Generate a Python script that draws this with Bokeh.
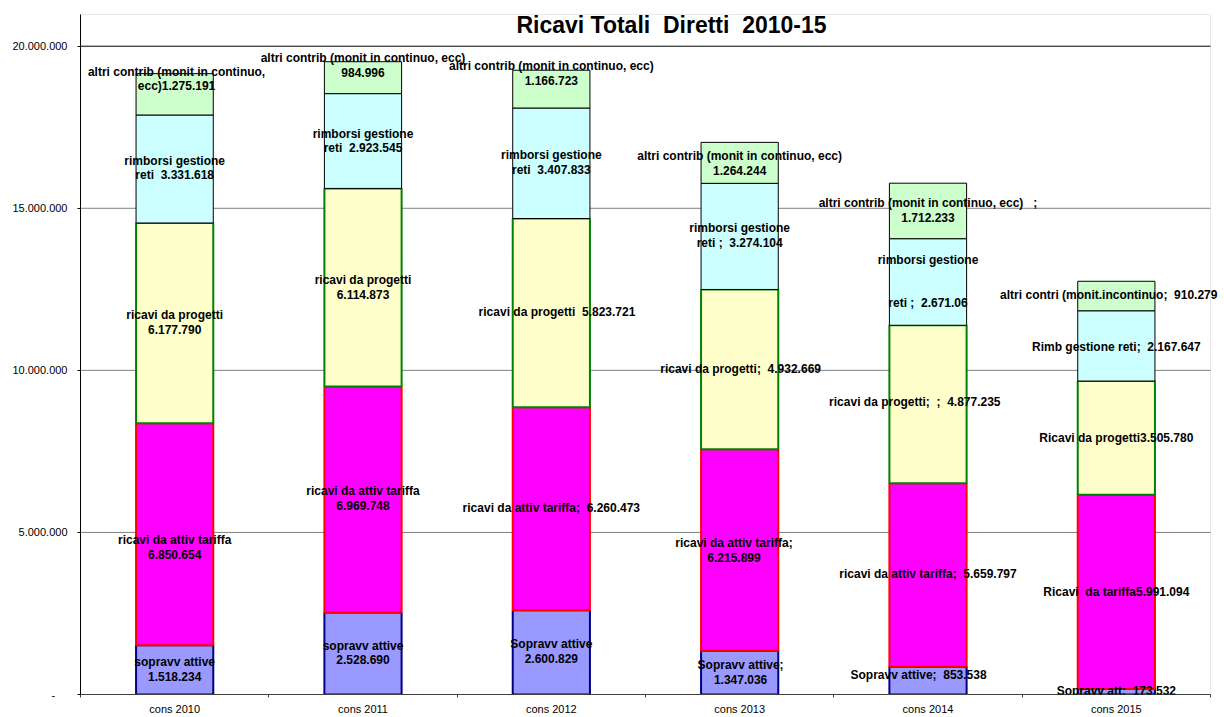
from bokeh.plotting import figure
from bokeh.models import ColumnDataSource, FixedTicker, LabelSet, Label, Range1d, BoxAnnotation
from bokeh.core.properties import value
from bokeh.embed import file_html
from bokeh.resources import INLINE

# ---------------- data ----------------
categories = ["cons 2010", "cons 2011", "cons 2012", "cons 2013", "cons 2014", "cons 2015"]

sopravv = [1518234, 2528690, 2600829, 1347036, 853538, 173532]
tariffa = [6850654, 6969748, 6260473, 6215899, 5659797, 5991094]
progetti = [6177790, 6114873, 5823721, 4932669, 4877235, 3505780]
rimborsi = [3331618, 2923545, 3407833, 3274104, 2671060, 2167647]
altri = [1275191, 984996, 1166723, 1264244, 1712233, 910279]

y_ticks = [0, 5000000, 10000000, 15000000, 20000000]
y_tick_labels = ["-\u00a0\u00a0\u00a0\u00a0", "5.000.000", "10.000.000", "15.000.000", "20.000.000"]

title_text = "Ricavi Totali  Diretti  2010-15"

lab_sopravv = ["sopravv attive\n1.518.234", "sopravv attive\n2.528.690", "Sopravv attive\n2.600.829",
               "Sopravv attive;\n1.347.036", "Sopravv attive;  853.538", "Sopravv att;  173.532"]
lab_tariffa = ["ricavi da attiv tariffa\n6.850.654", "ricavi da attiv tariffa\n6.969.748",
               "ricavi da attiv tariffa;  6.260.473", "ricavi da attiv tariffa;\n6.215.899",
               "ricavi da attiv tariffa;  5.659.797", "Ricavi  da tariffa5.991.094"]
lab_progetti = ["ricavi da progetti\n6.177.790", "ricavi da progetti\n6.114.873",
                "ricavi da progetti  5.823.721", "ricavi da progetti;  4.932.669",
                "ricavi da progetti;  ;  4.877.235", "Ricavi da progetti3.505.780"]
lab_rimborsi = ["rimborsi gestione\nreti  3.331.618", "rimborsi gestione\nreti  2.923.545",
                "rimborsi gestione\nreti  3.407.833", "rimborsi gestione\nreti ;  3.274.104",
                "rimborsi gestione\n\n\nreti ;  2.671.06", "Rimb gestione reti;  2.167.647"]
lab_altri = ["altri contrib (monit in continuo,\necc)1.275.191",
             "altri contrib (monit in continuo, ecc)\n984.996",
             "altri contrib (monit in continuo, ecc)\n1.166.723",
             "altri contrib (monit in continuo, ecc)\n1.264.244",
             "altri contrib (monit in continuo, ecc)   ;\n1.712.233",
             "altri contri (monit.incontinuo;  910.279"]

# label placement (manually dragged labels in the original): x offset in category units, y in value units
pos_dx_sopravv = [0, 0, 0, 0.005, -0.05, 0]
pos_dx_tariffa = [0, 0, 0, -0.03, 0, 0]
pos_dx_progetti = [0, 0, 0.03, 0.005, -0.07, 0]
pos_dx_rimborsi = [0, 0, 0, 0, 0, 0]
pos_dx_altri = [0.01, 0, 0, 0, 0, -0.04]

pos_y_sopravv = [770000, 1290000, 1340000, 690000, 610000, 110000]
pos_y_tariffa = [4550000, 6050000, 5750000, 4440000, 3720000, 3160000]
pos_y_progetti = [11490000, 12570000, 11800000, 10050000, 9030000, 7900000]
pos_y_rimborsi = [16250000, 17080000, 16410000, 14160000, 12730000, 10720000]
pos_y_altri = [18990000, 19420000, 19170000, 16390000, 14930000, 12320000]

# ---------------- figure ----------------
FONT = "Liberation Sans"
LINE_H = 14.3
n = len(categories)
xs = list(range(n))
Y_TOP = 20980000          # top edge of the plot area box
X_LO, X_HI = -0.5, n - 0.5


def keep_spaces(s):
    return s.replace("  ", " \u00a0")


p = figure(width=1222, height=717, title=None,
           x_range=Range1d(X_LO, X_HI + 0.0637), y_range=Range1d(0, Y_TOP + 60000),
           output_backend="svg", toolbar_location=None,
           min_border_left=80, min_border_right=0, min_border_top=12, min_border_bottom=20)
p.background_fill_color = "white"
p.border_fill_color = "white"
p.outline_line_color = None

# plot-area border (grey)
p.add_layout(BoxAnnotation(left=X_LO, right=X_HI, bottom=0, top=Y_TOP,
                           fill_color=None, line_color="#b4b4b4", line_width=1,
                           level="underlay"))

# gridlines
p.xgrid.visible = False
p.ygrid.visible = False
grid_colors = ["#808080"] * (len(y_ticks) - 1) + ["black"]
p.segment(x0=[X_LO] * len(y_ticks), x1=[X_HI] * len(y_ticks), y0=y_ticks, y1=y_ticks,
          line_color=grid_colors, line_width=1)

series = [
    (sopravv, "#9999FF", "#000080", 2, lab_sopravv, pos_dx_sopravv, pos_y_sopravv),
    (tariffa, "#FF00FF", "#FF0000", 2, lab_tariffa, pos_dx_tariffa, pos_y_tariffa),
    (progetti, "#FFFFCC", "#008000", 2, lab_progetti, pos_dx_progetti, pos_y_progetti),
    (rimborsi, "#CCFFFF", "#000000", 1, lab_rimborsi, pos_dx_rimborsi, pos_y_rimborsi),
    (altri, "#CCFFCC", "#000000", 1, lab_altri, pos_dx_altri, pos_y_altri),
]

bottom = [0] * n
for vals, fill, line, lw, labs, dxs, ys in series:
    top = [b + v for b, v in zip(bottom, vals)]
    src = ColumnDataSource(dict(x=xs, bottom=bottom, top=top))
    p.vbar(x="x", width=0.41, bottom="bottom", top="top", source=src,
           fill_color=fill, line_color=line, line_width=lw)
    bottom = top

# data labels: every line centred on its own
lx, ly, loff, ltext = [], [], [], []
for vals, fill, line, lw, labs, dxs, ys in series:
    for i, (lab, d, yv) in enumerate(zip(labs, dxs, ys)):
        lines = lab.split("\n")
        k = len(lines)
        for j, ln in enumerate(lines):
            if not ln:
                continue
            lx.append(i + d)
            ly.append(yv)
            loff.append(((k - 1) / 2 - j) * LINE_H)
            ltext.append(keep_spaces(ln))
lsrc = ColumnDataSource(dict(x=lx, y=ly, off=loff, text=ltext))
p.add_layout(LabelSet(x="x", y="y", y_offset="off", text="text", source=lsrc,
                      text_font=value(FONT), text_font_style="bold",
                      text_font_size="12px", text_color="black",
                      text_align="center", text_baseline="middle"))

# title inside the plot frame
p.add_layout(Label(x=2.638, y=20645000, text=keep_spaces(title_text), text_font=FONT,
                   text_font_style="bold", text_font_size="23px", text_color="black",
                   text_align="center", text_baseline="middle"))

# axes
ya = p.yaxis[0]
ya.ticker = FixedTicker(ticks=y_ticks)
ya.bounds = (0, Y_TOP)
ya.major_label_overrides = {t: l for t, l in zip(y_ticks, y_tick_labels)}
ya.major_label_text_font = FONT
ya.major_label_text_font_size = "11px"
ya.major_label_text_color = "black"
ya.major_tick_out = 3
ya.major_tick_in = 0
ya.minor_tick_out = 0
ya.minor_tick_in = 0
ya.major_label_standoff = 10
ya.axis_line_color = "black"
ya.major_tick_line_color = "black"

xa = p.xaxis[0]
xa.ticker = FixedTicker(ticks=xs, minor_ticks=[i - 0.5 for i in range(n + 1)])
xa.bounds = (X_LO, X_HI)
xa.major_label_overrides = {i: c for i, c in zip(xs, categories)}
xa.major_label_text_font = FONT
xa.major_label_text_font_size = "11px"
xa.major_label_text_color = "black"
xa.major_tick_out = 0
xa.major_tick_in = 0
xa.minor_tick_out = 3
xa.minor_tick_in = 0
xa.minor_tick_line_color = "#404040"
xa.major_label_standoff = 5
xa.axis_line_color = "#404040"

open("out.html", "w").write(file_html(p, INLINE))
